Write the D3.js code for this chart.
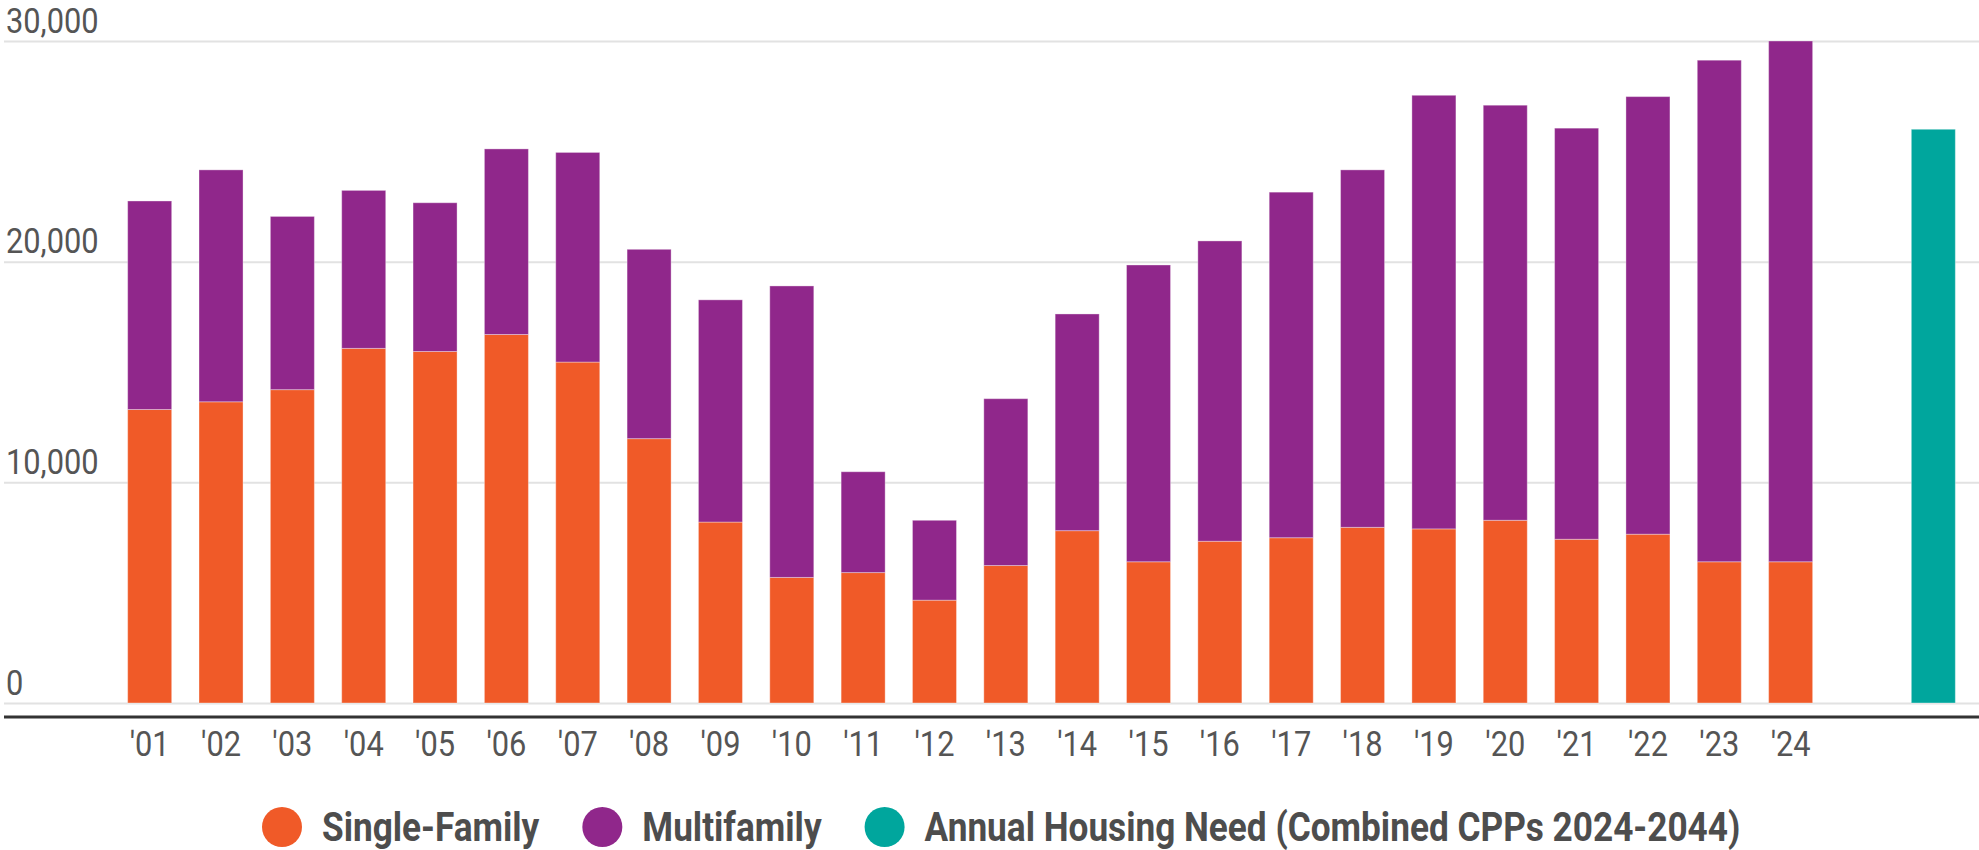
<!DOCTYPE html>
<html>
<head>
<meta charset="utf-8">
<script src="https://cdn.jsdelivr.net/npm/d3@7"></script>
<style>
    body { margin: 0; background: #fff; }
    svg text { font-family: Roboto, "Noto Sans", sans-serif; }
</style>
</head>
<body>
<svg id="chart" width="1979" height="850"></svg>
<script>
// values
const years = ["'01", "'02", "'03", "'04", "'05", "'06", "'07", "'08", "'09", "'10", "'11", "'12",
               "'13", "'14", "'15", "'16", "'17", "'18", "'19", "'20", "'21", "'22", "'23", "'24"];
const singleFamily = [13300, 13650, 14200, 16070, 15930, 16700, 15450, 11980, 8200, 5690, 5910, 4660,
                      6230, 7810, 6400, 7330, 7490, 7960, 7890, 8280, 7420, 7650, 6400, 6400];
const multifamily = [9450, 10510, 7850, 7160, 6740, 8410, 9500, 8580, 10070, 13210, 4570, 3620,
                     7560, 9820, 13450, 13610, 15660, 16200, 19650, 18810, 18630, 19830, 22730, 23600];
const housingNeed = 26000;
const yTicks = [0, 10000, 20000, 30000];
const seriesNames = ["Single-Family", "Multifamily", "Annual Housing Need (Combined CPPs 2024-2044)"];
const seriesColors = ["#f05a28", "#90278b", "#00a69d"];

const width = 1979;
const squeeze = 0.88;   // no condensed font here, so narrow the glyphs a bit

const svg = d3.select("#chart");

const rows = years.map((year, i) => ({ year: year, sf: singleFamily[i], mf: multifamily[i] }));
const stacked = d3.stack().keys(["sf", "mf"])(rows);

// one empty slot between the years and the need bar
const x = d3.scaleBand()
    .domain(years.concat(["gap", "need"]))
    .range([114, 1969])
    .paddingInner(0.383)
    .paddingOuter(0.1915);

const y = d3.scaleLinear()
    .domain([0, 30000])
    .range([703, 41]);

// gridlines + left labels
const yAxis = svg.append("g")
    .attr("transform", "translate(4,0)")
    .call(d3.axisRight(y).tickValues(yTicks).tickSize(width - 4).tickFormat(d3.format(",")));
yAxis.select(".domain").remove();
yAxis.selectAll(".tick line")
    .attr("stroke", "#e2e2e2")
    .attr("stroke-width", 2);
yAxis.selectAll(".tick text")
    .attr("x", 0)
    .attr("dy", -9)
    .attr("text-anchor", "start")
    .attr("transform", `translate(2,0) scale(${squeeze},1)`)
    .attr("fill", "#555")
    .attr("font-size", 35);

// stacked bars
svg.append("g")
    .selectAll("g")
    .data(stacked)
    .join("g")
        .attr("fill", (d, i) => seriesColors[i])
    .selectAll("rect")
    .data(d => d)
    .join("rect")
        .attr("x", d => x(d.data.year))
        .attr("y", d => y(d[1]))
        .attr("width", x.bandwidth())
        .attr("height", d => y(d[0]) - y(d[1]))
        .attr("stroke", "#fff")
        .attr("stroke-opacity", 0.35)
        .attr("stroke-width", 1);

// housing need bar
svg.append("rect")
    .attr("x", x("need"))
    .attr("y", y(housingNeed))
    .attr("width", x.bandwidth())
    .attr("height", y(0) - y(housingNeed))
    .attr("fill", seriesColors[2])
    .attr("stroke", "#fff")
    .attr("stroke-opacity", 0.35)
    .attr("stroke-width", 1);

// baseline + year labels
svg.append("line")
    .attr("x1", 4)
    .attr("x2", width)
    .attr("y1", 717)
    .attr("y2", 717)
    .attr("stroke", "#333")
    .attr("stroke-width", 3);

const xAxis = svg.append("g")
    .attr("transform", "translate(0,717)")
    .call(d3.axisBottom(x).tickValues(years).tickSize(0).tickPadding(14));
xAxis.select(".domain").remove();
xAxis.selectAll(".tick text")
    .attr("transform", `scale(${squeeze},1)`)
    .attr("fill", "#555")
    .attr("font-size", 35);

// legend
const legend = svg.append("g").attr("transform", "translate(262,827)");
let cursor = 0;
seriesNames.forEach((name, i) => {
    const item = legend.append("g").attr("transform", `translate(${cursor},0)`);
    item.append("circle")
        .attr("cx", 20)
        .attr("cy", 0)
        .attr("r", 20)
        .attr("fill", seriesColors[i]);
    const label = item.append("text")
        .attr("transform", `translate(60,0) scale(${squeeze},1)`)
        .attr("dy", "0.36em")
        .attr("fill", "#4d4d4d")
        .attr("font-size", 40)
        .attr("font-weight", 700)
        .text(name);
    cursor += 60 + label.node().getComputedTextLength() * squeeze + 43;
});
</script>
</body>
</html>
